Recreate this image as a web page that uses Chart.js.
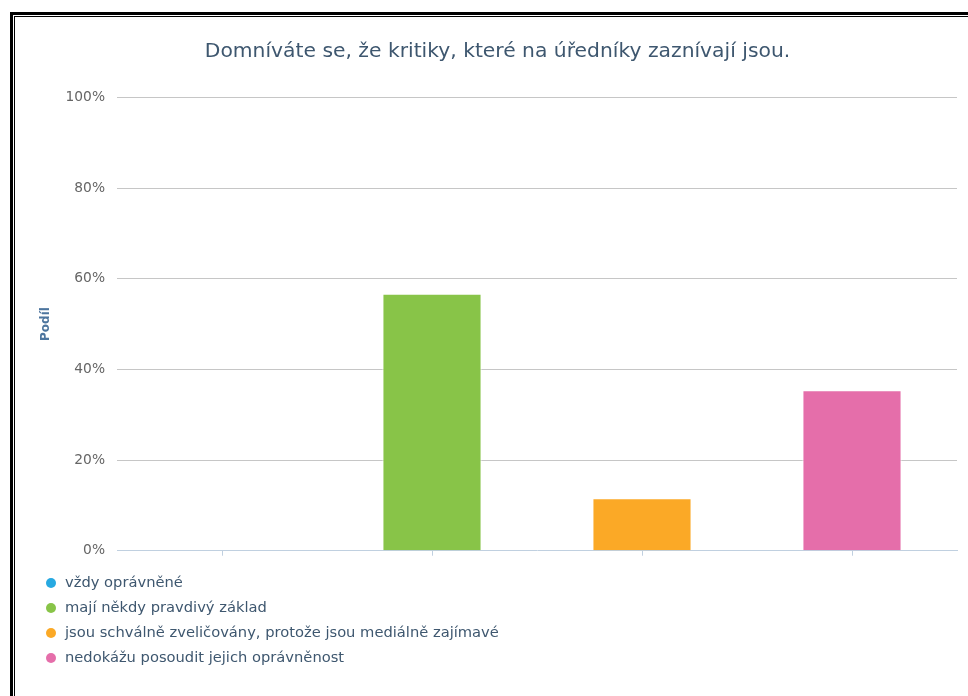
<!DOCTYPE html>
<html>
<head>
<meta charset="utf-8">
<script src="https://cdn.jsdelivr.net/npm/chart.js@4.4.1/dist/chart.umd.min.js"></script>
<style>
  html, body { margin: 0; padding: 0; background: #fff; }
  body { width: 968px; height: 696px; overflow: hidden; position: relative; font-family: 'DejaVu Sans', sans-serif; }
  .frame-outer { position: absolute; left: 10px; top: 12px; width: 1000px; height: 1000px; border: 3px solid #000; box-sizing: border-box; }
  .frame-inner { position: absolute; left: 1px; top: 1px; right: 0; bottom: 0; border: 1px solid #000; }
  .chart-box { position: absolute; left: 0; top: 0; width: 968px; height: 571px; }
  #legend { position: absolute; left: 46px; top: 569px; margin: 0; padding: 0; list-style: none; }
  #legend li { height: 25px; line-height: 25px; font-size: 14.7px; color: #3e576f; white-space: nowrap; }
  #legend .dot { display: inline-block; width: 10px; height: 10px; border-radius: 50%; margin-right: 9px; vertical-align: -1px; }
</style>
</head>
<body>
<div class="frame-outer"><div class="frame-inner"></div></div>
<div class="chart-box"><canvas id="kritikyChart"></canvas></div>
<ul id="legend"></ul>
<script>
const CHART_TITLE = 'Domníváte se, že kritiky, které na úředníky zaznívají jsou.';
const AXIS_TITLE = 'Podíl';

const categories = [
  'vždy oprávněné',
  'mají někdy pravdivý základ',
  'jsou schválně zveličovány, protože jsou mediálně zajímavé',
  'nedokážu posoudit jejich oprávněnost'
];
const shares = [0, 56.7, 11.6, 35.4];
const barColors = ['#27a9e1', '#88c448', '#fba926', '#e56eaa'];
const yTicks = [0, 20, 40, 60, 80, 100];

const kritikyChart = new Chart(document.getElementById('kritikyChart'), {
  type: 'bar',
  data: {
    labels: categories,
    datasets: [{
      data: shares,
      backgroundColor: barColors,
      borderColor: '#ffffff',
      borderWidth: 1,
      categoryPercentage: 1,
      barPercentage: 0.472
    }]
  },
  options: {
    responsive: true,
    maintainAspectRatio: false,
    animation: false,
    layout: { padding: { left: 38, right: 11, top: 0, bottom: 0 } },
    plugins: {
      legend: { display: false },
      tooltip: { enabled: false },
      title: {
        display: true,
        text: CHART_TITLE,
        color: '#3e576f',
        font: { family: 'DejaVu Sans', size: 20.3, weight: 'normal' },
        padding: { top: 40, bottom: 33 }
      }
    },
    scales: {
      x: {
        offset: true,
        grid: {
          offset: false,
          drawOnChartArea: false,
          drawTicks: true,
          tickLength: 5,
          color: '#c0d0e0'
        },
        border: { color: '#c0d0e0', width: 1 },
        ticks: { display: false }
      },
      y: {
        min: 0,
        max: 100,
        afterBuildTicks: (scale) => {
          scale.ticks = yTicks.map((value) => ({ value }));
        },
        afterFit: (scale) => {
          scale.width = 79;
        },
        grid: {
          color: (ctx) => (ctx.tick && ctx.tick.value === 0 ? 'rgba(0,0,0,0)' : '#c6c6c6'),
          drawTicks: false
        },
        border: { display: false },
        ticks: {
          padding: 12,
          color: '#666666',
          font: { family: 'DejaVu Sans', size: 13.8 },
          callback: (value) => `${value}%`
        },
        title: {
          display: true,
          text: AXIS_TITLE,
          color: '#4d759e',
          font: { family: 'DejaVu Sans', size: 12, weight: 'bold' },
          padding: { top: 1, bottom: 17 }
        }
      }
    }
  }
});

buildLegend();

function buildLegend() {
  const list = document.getElementById('legend');
  categories.forEach((label, index) => {
    const item = document.createElement('li');
    const dot = document.createElement('span');
    dot.className = 'dot';
    dot.style.background = barColors[index];
    item.appendChild(dot);
    item.appendChild(document.createTextNode(label));
    list.appendChild(item);
  });
}
</script>
</body>
</html>
